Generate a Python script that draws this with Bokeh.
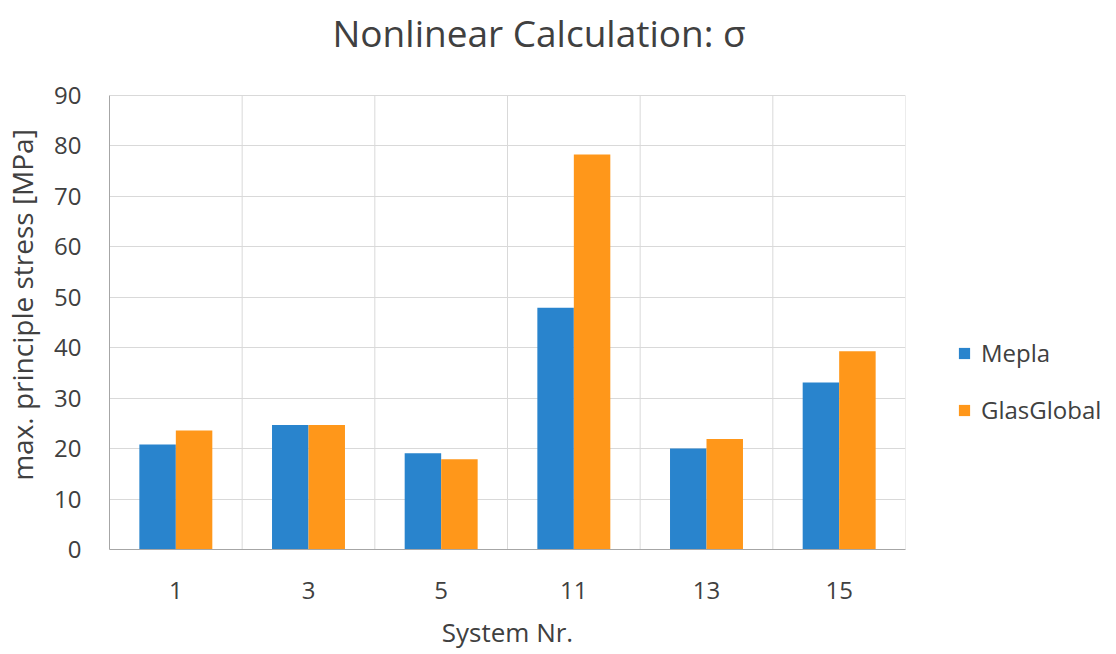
from bokeh.plotting import figure
from bokeh.layouts import row
from bokeh.models import ColumnDataSource, FactorRange, Legend, LegendItem, Range1d, SingleIntervalTicker
from bokeh.transform import dodge
from bokeh.embed import file_html
from bokeh.resources import INLINE

# System numbers and max. principle stress [MPa] per solver
systems = ["1", "3", "5", "11", "13", "15"]
mepla = [20.8, 24.7, 19.1, 47.9, 20.0, 33.1]
glasglobal = [23.6, 24.7, 17.9, 78.3, 21.9, 39.3]

BLUE = "#2984CD"
ORANGE = "#FF971A"
GRID = "#D9D9D9"
TEXT = "#404040"
FONT = "Open Sans"

Y_MAX = 90
# canvas rows of the frame top, of the value 90 and of the zero line
FRAME_TOP, TOP_ROW, ZERO_ROW = 60, 95, 549
y_end = Y_MAX * (ZERO_ROW - FRAME_TOP) / (ZERO_ROW - TOP_ROW)

src = ColumnDataSource(dict(sys=systems, mepla=mepla, glas=glasglobal,
                            top=[Y_MAX] * len(systems)))

p = figure(width=907, height=654, x_range=FactorRange(*systems, range_padding=0),
           y_range=Range1d(0, y_end), output_backend="svg", toolbar_location=None,
           min_border_left=108, min_border_right=2, min_border_top=FRAME_TOP,
           min_border_bottom=654 - ZERO_ROW)
p.outline_line_color = None

# vertical separators between systems (the last one closes the plot area)
p.segment(x0=dodge("sys", 0.5, range=p.x_range), x1=dodge("sys", 0.5, range=p.x_range),
          y0=0, y1="top", source=src, line_color=GRID, line_width=1)

r1 = p.vbar(x=dodge("sys", -0.1375, range=p.x_range), top="mepla", width=0.275,
            source=src, fill_color=BLUE, line_color=None)
r2 = p.vbar(x=dodge("sys", 0.1375, range=p.x_range), top="glas", width=0.275,
            source=src, fill_color=ORANGE, line_color=None)

p.title.text = "Nonlinear Calculation: σ"
p.title.align = "left"
p.title.offset = 223
p.title.vertical_align = "top"
p.title.standoff = 2
p.title.text_font = FONT
p.title.text_font_size = "37px"
p.title.text_font_style = "normal"
p.title.text_color = TEXT

p.xgrid.grid_line_color = None
p.ygrid.grid_line_color = GRID
p.yaxis.ticker = SingleIntervalTicker(interval=10)
p.yaxis.bounds = (0, Y_MAX)

for ax in (p.xaxis[0], p.yaxis[0]):
    ax.axis_line_color = "#A6A6A6"
    ax.major_tick_line_color = None
    ax.minor_tick_line_color = None
    ax.major_tick_out = 0
    ax.major_label_text_font = FONT
    ax.major_label_text_font_size = "24px"
    ax.major_label_text_color = TEXT
    ax.axis_label_text_font = FONT
    ax.axis_label_text_font_style = "normal"
    ax.axis_label_text_color = TEXT

p.yaxis.axis_label = "max. principle stress [MPa]"
p.yaxis.axis_label_text_font_size = "28px"
p.yaxis.major_label_standoff = 24
p.yaxis.axis_label_standoff = 10
p.xaxis.axis_label = "System Nr."
p.xaxis.axis_label_text_font_size = "26px"
p.xaxis.major_label_standoff = 32
p.xaxis.axis_label_standoff = 12

# legend panel to the right of the chart; its key renderers hold zero-height bars
lf = figure(width=209, height=654, x_range=(0, 1), y_range=(0, 1), output_backend="svg",
            toolbar_location=None, x_axis_type=None, y_axis_type=None,
            min_border=0, outline_line_color=None)
lf.xgrid.visible = False
lf.ygrid.visible = False
keys = ColumnDataSource(dict(x=[0.5], top=[0]))
k1 = lf.vbar(x="x", top="top", width=0.1, source=keys, fill_color=BLUE, line_color=None)
k2 = lf.vbar(x="x", top="top", width=0.1, source=keys, fill_color=ORANGE, line_color=None)

legend = Legend(items=[LegendItem(label="Mepla", renderers=[k1]),
                       LegendItem(label="GlasGlobal", renderers=[k2])],
                location=(50, 123), border_line_color=None, background_fill_alpha=0,
                glyph_width=14, glyph_height=14, spacing=24, margin=0, padding=0,
                label_text_font=FONT, label_text_font_size="24px",
                label_text_color=TEXT, label_standoff=10)
lf.add_layout(legend)

page = row(p, lf, spacing=0)
open("out.html", "w").write(file_html(page, INLINE))
